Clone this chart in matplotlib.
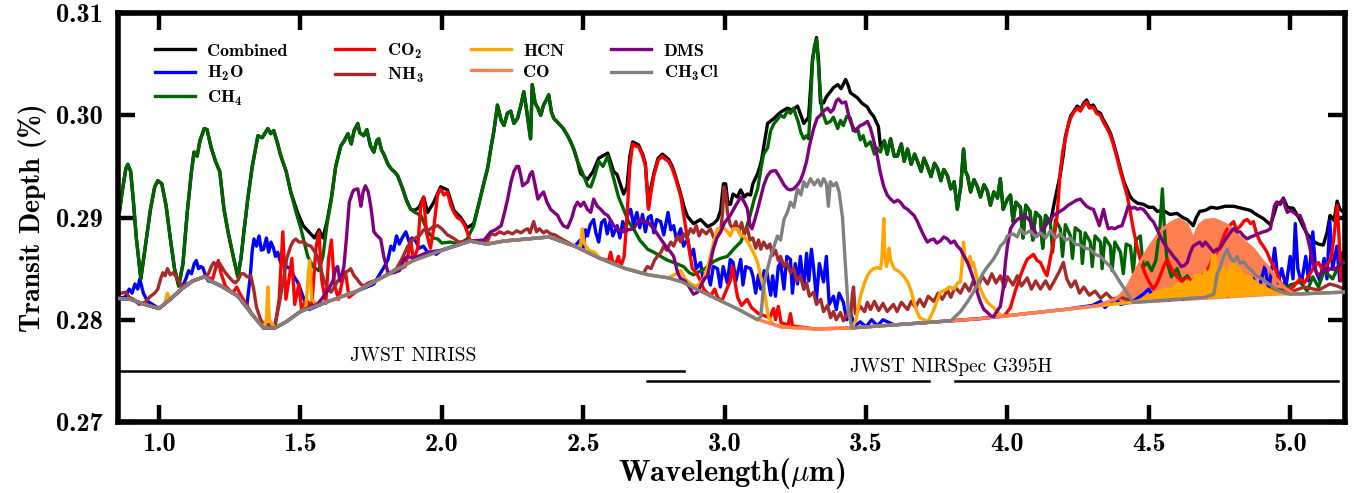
import matplotlib
matplotlib.use("Agg")
import matplotlib.pyplot as plt

plt.rcParams['mathtext.fontset'] = 'custom'
plt.rcParams['mathtext.rm'] = 'cmb10'
plt.rcParams['mathtext.bf'] = 'cmb10'
plt.rcParams['mathtext.it'] = 'cmmi10'
plt.rcParams['font.family'] = 'cmb10'
plt.rcParams['axes.unicode_minus'] = False

# ---------------- data (wavelength um, transit depth %) ----------------
BASE = [(0.85,0.2821),(0.90,0.2820),(0.95,0.2815),(1.00,0.2811),(1.04,0.2820),(1.08,0.2830),(1.12,0.2838),
        (1.16,0.2842),(1.19,0.2837),(1.22,0.2833),(1.28,0.2823),(1.33,0.2805),(1.37,0.2792),(1.41,0.2792),
        (1.45,0.2798),(1.50,0.2808),(1.60,0.2818),(1.70,0.2828),(1.80,0.2843),(1.90,0.2858),(2.00,0.2868),
        (2.10,0.2877),(2.16,0.2874),(2.22,0.2877),(2.30,0.2879),(2.38,0.2881),(2.47,0.2872),(2.56,0.2860),
        (2.65,0.2850),(2.73,0.2844),(2.80,0.2841),(2.85,0.2837),(2.90,0.2830),(2.96,0.2822),(3.05,0.2810),
        (3.12,0.2800),(3.20,0.2793),(3.32,0.2791),(3.45,0.2792),(3.55,0.2794),(3.65,0.2796),(3.80,0.2799),
        (3.90,0.2801),(4.00,0.2804),(4.10,0.2807),(4.20,0.2810),(4.30,0.2813),(4.40,0.2816),(4.50,0.2818),
        (4.60,0.2820),(4.70,0.2822),(4.80,0.2823),(4.90,0.2824),(5.00,0.2825),(5.10,0.2826),(5.19,0.2827)]


def cont(lo, hi):
    return [p for p in BASE if lo <= p[0] <= hi]


def part(series, lo, hi):
    return [p for p in series if lo <= p[0] <= hi]


ch4 = [(0.85,0.2912),(0.86,0.2905),(0.87,0.2925),(0.883,0.2948),(0.89,0.2952),(0.90,0.2945),(0.91,0.2915),(0.92,0.2880),
    (0.936,0.2840),(0.95,0.2868),(0.97,0.2908),(0.985,0.2930),(0.996,0.2936),(1.01,0.2933),(1.025,0.2912),(1.04,0.2880),
    (1.055,0.2850),(1.07,0.2833),(1.085,0.2855),(1.10,0.2905),(1.115,0.2945),(1.124,0.2964),(1.135,0.2960),(1.145,0.2975),
    (1.16,0.2987),(1.17,0.2986),(1.185,0.2968),(1.20,0.2955),(1.215,0.2945),(1.23,0.2908),(1.245,0.2885),(1.265,0.2859),
    (1.279,0.2842),(1.29,0.2860),(1.30,0.2885),(1.314,0.2918),(1.33,0.2950),(1.35,0.2980),(1.365,0.2978),(1.385,0.2987),
    (1.395,0.2982),(1.406,0.2985),(1.42,0.2972),(1.43,0.2961),(1.45,0.2945),(1.466,0.2925),(1.485,0.2905),(1.502,0.2889),
    (1.526,0.2862),(1.545,0.2852),(1.565,0.2848),(1.58,0.2862),(1.595,0.2895),(1.61,0.2918),(1.625,0.2950),(1.643,0.2970),
    (1.655,0.2975),(1.668,0.2982),(1.68,0.2972),(1.69,0.2985),(1.703,0.2992),(1.71,0.2983),(1.724,0.2980),(1.735,0.2986),
    (1.748,0.2970),(1.76,0.2964),(1.77,0.2975),(1.777,0.2977),(1.787,0.2966),(1.795,0.2962),(1.81,0.2952),(1.82,0.2948),
    (1.835,0.2944),(1.844,0.2941),(1.855,0.2933),(1.862,0.2928),(1.875,0.2917),(1.89,0.2908),(1.905,0.2905),(1.926,0.2902),
    (1.94,0.2893),(1.95,0.2886),(1.97,0.2880),(1.986,0.2879),(2.00,0.2875),(2.03,0.2876),(2.06,0.2874),(2.09,0.2879),
    (2.113,0.2892),(2.13,0.2912),(2.15,0.2935),(2.162,0.2948),(2.175,0.2970),(2.184,0.2984),(2.197,0.3010),(2.21,0.2995),
    (2.22,0.2990),(2.232,0.3002),(2.244,0.3004),(2.255,0.2992),(2.268,0.2997),(2.28,0.3010),(2.29,0.3023),(2.30,0.3005),
    (2.314,0.2977),(2.32,0.3030),(2.33,0.3012),(2.34,0.3007),(2.35,0.3000),(2.36,0.3010),(2.37,0.3015),(2.378,0.3020),
    (2.388,0.3003),(2.396,0.2997),(2.41,0.2993),(2.43,0.2987),(2.445,0.2980),(2.456,0.2974),(2.468,0.2966),(2.48,0.2955),
    (2.50,0.2942),(2.516,0.2931),(2.527,0.2930),(2.54,0.2940),(2.555,0.2955),(2.57,0.2950),(2.587,0.2960),(2.598,0.2948),
    (2.608,0.2938),(2.625,0.2920),(2.643,0.2908),(2.66,0.2896),(2.678,0.2889),(2.70,0.2878),(2.728,0.2869),(2.75,0.2866),
    (2.774,0.2862),(2.80,0.2858),(2.82,0.2856),(2.855,0.2852),(2.875,0.2846),(2.89,0.2844),(2.91,0.2847),(2.926,0.2849),
    (2.945,0.2853),(2.961,0.2857),(2.985,0.2860),(3.01,0.2862),(3.035,0.2870),(3.057,0.2876),(3.075,0.2888),(3.09,0.2902),
    (3.105,0.2918),(3.117,0.2928),(3.13,0.2950),(3.138,0.2962),(3.152,0.2968),(3.163,0.2985),(3.175,0.2992),(3.187,0.2996),
    (3.198,0.3000),(3.21,0.2998),(3.222,0.3004),(3.233,0.3002),(3.244,0.3007),(3.252,0.3000),(3.26,0.2994),(3.27,0.2983),
    (3.28,0.2977),(3.29,0.2980),(3.297,0.2977),(3.304,0.3010),(3.311,0.3053),(3.318,0.3068),(3.325,0.3074),(3.332,0.3050),
    (3.339,0.3020),(3.345,0.3003),(3.35,0.3000),(3.36,0.2992),(3.374,0.2994),(3.385,0.2998),(3.40,0.2987),(3.41,0.2995),
    (3.42,0.2990),(3.432,0.2999),(3.445,0.2997),(3.455,0.2985),(3.47,0.2987),(3.48,0.2976),(3.49,0.2980),(3.50,0.2970),
    (3.516,0.2974),(3.53,0.2962),(3.54,0.2968),(3.551,0.2964),(3.565,0.2975),(3.575,0.2962),(3.587,0.2977),(3.60,0.2960),
    (3.611,0.2960),(3.625,0.2972),(3.635,0.2955),(3.647,0.2967),(3.66,0.2952),(3.672,0.2962),(3.682,0.2955),(3.695,0.2945),
    (3.705,0.2958),(3.717,0.2950),(3.73,0.2940),(3.742,0.2953),(3.753,0.2948),(3.765,0.2936),(3.775,0.2947),(3.788,0.2941),
    (3.80,0.2928),(3.812,0.2935),(3.823,0.2908),(3.835,0.2930),(3.845,0.2967),(3.852,0.2945),(3.859,0.2941),(3.87,0.2925),
    (3.882,0.2937),(3.894,0.2930),(3.905,0.2920),(3.917,0.2932),(3.929,0.2926),(3.94,0.2912),(3.952,0.2925),(3.965,0.2919),
    (3.975,0.2938),(3.985,0.2908),(4.0,0.2918),(4.011,0.2922),(4.02,0.2896),(4.03,0.2915),(4.046,0.2910),(4.055,0.2880),
    (4.065,0.2912),(4.08,0.2906),(4.09,0.2878),(4.10,0.2905),(4.117,0.2900),(4.125,0.2870),(4.135,0.2902),(4.152,0.2895),
    (4.16,0.2866),(4.17,0.2898),(4.187,0.2889),(4.195,0.2862),(4.205,0.2893),(4.223,0.2882),(4.23,0.2860),(4.24,0.2890),
    (4.258,0.2886),(4.265,0.2855),(4.275,0.2885),(4.293,0.2876),(4.30,0.2852),(4.31,0.2882),(4.329,0.2876),(4.335,0.2850),
    (4.345,0.2880),(4.364,0.2872),(4.37,0.2848),(4.38,0.2876),(4.40,0.2866),(4.41,0.2845),(4.42,0.2874),(4.435,0.2872),
    (4.445,0.2846),(4.455,0.2878),(4.47,0.2882),(4.48,0.2852),(4.495,0.2856),(4.51,0.2848),(4.525,0.2858),(4.54,0.2892),
    (4.548,0.2928),(4.556,0.2885),(4.565,0.2856),(4.58,0.2842),(4.60,0.2850),(4.615,0.2838),(4.636,0.2843),(4.66,0.2832),
    (4.68,0.2837),(4.71,0.2830),(4.742,0.2837),(4.77,0.2828),(4.80,0.2833),(4.83,0.2826),(4.86,0.2830),(4.92,0.2830),
    (4.96,0.2826),(5.0,0.2834),(5.035,0.2837),(5.06,0.2828),(5.08,0.2842),(5.10,0.2832),(5.12,0.2848),(5.15,0.2840),
    (5.17,0.2852),(5.19,0.2843)]

combined = (part(ch4, 0.85, 1.466) +
    [(1.49,0.2905),(1.51,0.2892),(1.53,0.2886),(1.55,0.2880),(1.566,0.2888),(1.58,0.2880),(1.595,0.2897),(1.61,0.2920)] +
    part(ch4, 1.625, 1.89) +
    [(1.905,0.2907),(1.92,0.2910),(1.936,0.2920),(1.95,0.2905),(1.972,0.2915),(1.996,0.2930),(2.02,0.2927),
     (2.043,0.2907),(2.067,0.2900),(2.09,0.2890),(2.113,0.2894)] +
    part(ch4, 2.13, 2.48) +
    [(2.491,0.2943),(2.515,0.2937),(2.535,0.2945),(2.555,0.2958),(2.587,0.2963),(2.608,0.2945),(2.62,0.2942),
     (2.643,0.2923),(2.655,0.2930),(2.665,0.2960),(2.675,0.2974),(2.696,0.2971),(2.71,0.2962),(2.72,0.2953),
     (2.731,0.2910),(2.74,0.2930),(2.75,0.2943),(2.765,0.2958),(2.78,0.2962),(2.802,0.2957),(2.815,0.2950),
     (2.827,0.2940),(2.845,0.2923),(2.857,0.2910),(2.869,0.2901),(2.89,0.2894),(2.915,0.2898),(2.94,0.2891),
     (2.961,0.2894),(2.975,0.2898),(2.986,0.2907),(2.996,0.2933),(3.004,0.2933),(3.012,0.2913),(3.021,0.2913),
     (3.03,0.2923),(3.045,0.2920),(3.057,0.2927),(3.07,0.2920),(3.08,0.2923),(3.092,0.2922),(3.10,0.2933),
     (3.117,0.2943),(3.13,0.2955),(3.152,0.2992),(3.175,0.2997),(3.198,0.3003),(3.222,0.3007),(3.24,0.3005),
     (3.258,0.3009),(3.27,0.3000),(3.28,0.2992),(3.297,0.2998),(3.311,0.3055),(3.325,0.3076),(3.332,0.3055),
     (3.339,0.3012),(3.35,0.3012),(3.36,0.3018),(3.374,0.3023),(3.385,0.3027),(3.40,0.3030),(3.412,0.3026),
     (3.428,0.3035),(3.436,0.3030),(3.445,0.3022),(3.455,0.3020),(3.47,0.3017),(3.485,0.3012),(3.505,0.3008),
     (3.515,0.3003),(3.527,0.2999),(3.544,0.2989),(3.551,0.2970)] +
    part(ch4, 3.565, 4.152) +
    [(4.17,0.2920),(4.187,0.2942),(4.198,0.2962),(4.205,0.2979),(4.223,0.2999),(4.235,0.3004),(4.247,0.3009),
     (4.26,0.3006),(4.27,0.3012),(4.28,0.3015),(4.29,0.3009),(4.304,0.3010),(4.315,0.3004),(4.329,0.3002),
     (4.34,0.2995),(4.353,0.2989),(4.365,0.2982),(4.375,0.2973),(4.388,0.2960),(4.40,0.2947),(4.412,0.2935),
     (4.424,0.2927),(4.435,0.2920),(4.445,0.2917),(4.46,0.2914),(4.48,0.2913),(4.50,0.2910),(4.516,0.2910),
     (4.53,0.2906),(4.551,0.2907),(4.575,0.2903),(4.60,0.2904),(4.62,0.2900),(4.636,0.2898),(4.657,0.2892),
     (4.668,0.2900),(4.68,0.2906),(4.70,0.2907),(4.72,0.2910),(4.742,0.2909),(4.77,0.2911),(4.80,0.2911),
     (4.83,0.2909),(4.859,0.2907),(4.88,0.2903),(4.905,0.2899),(4.93,0.2893),(4.945,0.2905),(4.955,0.2915),
     (4.965,0.2913),(4.976,0.2919),(4.99,0.2910),(5.011,0.2909),(5.03,0.2900),(5.046,0.2891),(5.06,0.2884),
     (5.081,0.2877),(5.10,0.2874),(5.117,0.2873),(5.13,0.2885),(5.141,0.2902),(5.155,0.2897),(5.166,0.2916),
     (5.176,0.2908),(5.19,0.2905)])

h2o = ([(0.85,0.2821),(0.88,0.2822),(0.895,0.2830),(0.905,0.2826),(0.915,0.2835),(0.925,0.2830),(0.932,0.2840),
        (0.945,0.2826),(0.96,0.2818)] + cont(1.00, 1.08) +
       [(1.095,0.2840),(1.105,0.2848),(1.115,0.2845),(1.125,0.2855),(1.132,0.2858),(1.14,0.2850),(1.148,0.2852),
        (1.155,0.2851),(1.165,0.2843),(1.175,0.2838)] + cont(1.19, 1.28) +
       [(1.31,0.2812),(1.322,0.2840),(1.33,0.2868),(1.336,0.2879),(1.345,0.2872),(1.354,0.2882),(1.362,0.2868),
        (1.37,0.2869),(1.38,0.2880),(1.388,0.2866),(1.396,0.2876),(1.405,0.2870),(1.412,0.2862),(1.42,0.2866),
        (1.43,0.2856),(1.44,0.2860),(1.45,0.2852),(1.466,0.2850),(1.478,0.2842),(1.49,0.2837),(1.50,0.2830),
        (1.513,0.2820),(1.53,0.2810)] + cont(1.60, 1.70) +
       [(1.76,0.2835),(1.784,0.2846),(1.797,0.2852),(1.81,0.2859),(1.82,0.2872),(1.83,0.2868),(1.84,0.2882),
        (1.85,0.2874),(1.86,0.2880),(1.873,0.2886),(1.885,0.2876),(1.895,0.2880),(1.908,0.2877),(1.92,0.2870),
        (1.935,0.2872),(1.95,0.2866),(1.965,0.2866),(1.98,0.2864)] + cont(2.00, 2.47) +
       [(2.49,0.2878),(2.50,0.2870),(2.508,0.2888),(2.515,0.2882),(2.525,0.2893),(2.537,0.2898),(2.545,0.2885),
        (2.555,0.2876),(2.565,0.2895),(2.576,0.2898),(2.585,0.2884),(2.595,0.2896),(2.605,0.2882),(2.62,0.2892),
        (2.63,0.2880),(2.64,0.2896),(2.65,0.2887),(2.658,0.2903),(2.668,0.2908),(2.678,0.2893),(2.69,0.2905),
        (2.70,0.2890),(2.71,0.2903),(2.72,0.2886),(2.73,0.2900),(2.74,0.2902),(2.75,0.2885),(2.76,0.2898),
        (2.774,0.2896),(2.785,0.2883),(2.80,0.2905),(2.81,0.2888),(2.82,0.2892),(2.83,0.2878),(2.845,0.2889),
        (2.855,0.2872),(2.87,0.2879),(2.88,0.2862),(2.89,0.2869),(2.90,0.2850),(2.915,0.2856),(2.925,0.2838),
        (2.94,0.2846),(2.95,0.2834),(2.96,0.2852),(2.975,0.2850),(2.985,0.2832),(2.995,0.2852),(3.01,0.2836),
        (3.02,0.2859),(3.03,0.2856),(3.04,0.2838),(3.057,0.2859),(3.065,0.2834),(3.075,0.2852),(3.092,0.2850),
        (3.10,0.2843),(3.11,0.2826),(3.12,0.2844),(3.128,0.2830),(3.14,0.2848),(3.15,0.2846),(3.163,0.2824),
        (3.17,0.2843),(3.18,0.2823),(3.19,0.2852),(3.198,0.2856),(3.21,0.2830),(3.22,0.2862),(3.233,0.2859),
        (3.24,0.2826),(3.25,0.2855),(3.258,0.2835),(3.268,0.2862),(3.28,0.2830),(3.29,0.2865),(3.298,0.2838),
        (3.307,0.2869),(3.315,0.2850),(3.325,0.2820),(3.335,0.2855),(3.35,0.2837),(3.36,0.2862),(3.37,0.2815),
        (3.385,0.2823),(3.395,0.2810),(3.405,0.2826),(3.42,0.2817),(3.432,0.2800),(3.445,0.2807),(3.46,0.2794),
        (3.48,0.2798),(3.50,0.2793),(3.52,0.2800),(3.54,0.2794),(3.56,0.2800),(3.60,0.2795)] + cont(3.65, 4.20) +
       [(4.30,0.2814),(4.33,0.2818),(4.345,0.2812),(4.38,0.2821),(4.40,0.2815),(4.445,0.2818),(4.48,0.2825),
        (4.50,0.2830),(4.52,0.2820),(4.55,0.2826),(4.57,0.2819),(4.60,0.2832),(4.62,0.2820),(4.66,0.2830),
        (4.70,0.2822),(4.74,0.2828),(4.78,0.2823),(4.82,0.2836),(4.84,0.2826),(4.87,0.2840),(4.885,0.2826),
        (4.91,0.2852),(4.925,0.2830),(4.945,0.2870),(4.958,0.2836),(4.97,0.2850),(4.985,0.2832),(5.0,0.2862),
        (5.01,0.2840),(5.018,0.2894),(5.027,0.2850),(5.04,0.2836),(5.055,0.2862),(5.065,0.2838),(5.08,0.2886),
        (5.09,0.2848),(5.105,0.2838),(5.12,0.2860),(5.13,0.2840),(5.14,0.2896),(5.15,0.2850),(5.165,0.2872),
        (5.175,0.2838),(5.186,0.2866),(5.19,0.2845)])

co2 = (cont(0.85, 1.16) +
       [(1.19,0.2840),(1.20,0.2850),(1.21,0.2858),(1.22,0.2845),(1.235,0.2833),(1.26,0.2826),(1.275,0.2832),
        (1.285,0.2826)] + cont(1.33, 1.41) +
       [(1.425,0.2820),(1.438,0.2886),(1.449,0.2820),(1.46,0.2840),(1.47,0.2860),(1.48,0.2815),(1.495,0.2835),
        (1.505,0.2808),(1.52,0.2820),(1.54,0.2812),(1.555,0.2870),(1.566,0.2886),(1.575,0.2840),(1.59,0.2816),
        (1.60,0.2860),(1.61,0.2878),(1.62,0.2835),(1.635,0.2820),(1.65,0.2840),(1.66,0.2846),(1.672,0.2822)] +
       cont(1.70, 1.80) +
       [(1.87,0.2852),(1.88,0.2862),(1.89,0.2878),(1.90,0.2858),(1.915,0.2870),(1.925,0.2910),(1.936,0.2920),
        (1.946,0.2885),(1.96,0.2870),(1.972,0.2890),(1.985,0.2922),(1.996,0.2928),(2.008,0.2922),(2.02,0.2925),
        (2.032,0.2912),(2.043,0.2905),(2.055,0.2900),(2.067,0.2898),(2.08,0.2893),(2.09,0.2886)] +
       cont(2.10, 2.56) +
       [(2.59,0.2858),(2.597,0.2866),(2.605,0.2856),(2.615,0.2855),(2.625,0.2862),(2.633,0.2852),(2.645,0.2862),
        (2.655,0.2900),(2.665,0.2950),(2.675,0.2972),(2.685,0.2970),(2.696,0.2969),(2.708,0.2962),(2.72,0.2951),
        (2.731,0.2908),(2.74,0.2925),(2.75,0.2941),(2.765,0.2956),(2.78,0.2960),(2.79,0.2957),(2.802,0.2955),
        (2.815,0.2948),(2.827,0.2938),(2.845,0.2921),(2.857,0.2900),(2.869,0.2879),(2.886,0.2850),(2.90,0.2846),
        (2.915,0.2838),(2.926,0.2830),(2.95,0.2823),(2.965,0.2830),(2.975,0.2822),(2.99,0.2818),(3.005,0.2828),
        (3.02,0.2838),(3.028,0.2852),(3.035,0.2840),(3.046,0.2822),(3.06,0.2814),(3.08,0.2820),(3.095,0.2812),
        (3.12,0.2806),(3.16,0.2802),(3.173,0.2811),(3.18,0.2800),(3.19,0.2813),(3.20,0.2797),(3.225,0.2795),
        (3.233,0.2806),(3.24,0.2794)] + cont(3.32, 3.90) +
       [(3.99,0.2804),(4.011,0.2812),(4.03,0.2830),(4.046,0.2843),(4.06,0.2853),(4.07,0.2859),(4.092,0.2864),
        (4.105,0.2858),(4.117,0.2856),(4.13,0.2848),(4.14,0.2843),(4.152,0.2860),(4.163,0.2876),(4.176,0.2902),
        (4.187,0.2945),(4.196,0.2965),(4.205,0.2977),(4.215,0.2990),(4.223,0.2997),(4.235,0.3003),(4.247,0.3007),
        (4.258,0.3004),(4.27,0.3010),(4.28,0.3013),(4.29,0.3007),(4.304,0.3008),(4.315,0.3002),(4.329,0.3000),
        (4.34,0.2993),(4.353,0.2987),(4.365,0.2980),(4.375,0.2971),(4.388,0.2958),(4.40,0.2945),(4.412,0.2933),
        (4.424,0.2921),(4.435,0.2905),(4.445,0.2889),(4.458,0.2872),(4.47,0.2859),(4.483,0.2848),(4.495,0.2840),
        (4.516,0.2830),(4.53,0.2836),(4.54,0.2843),(4.553,0.2852),(4.565,0.2859),(4.58,0.2850),(4.60,0.2842),
        (4.62,0.2838),(4.64,0.2841),(4.66,0.2836),(4.69,0.2843),(4.71,0.2850),(4.73,0.2862),(4.75,0.2870),
        (4.77,0.2885),(4.785,0.2892),(4.80,0.2896),(4.81,0.2888),(4.825,0.2892),(4.838,0.2897),(4.848,0.2898),
        (4.86,0.2894),(4.87,0.2896),(4.88,0.2885),(4.894,0.2876),(4.905,0.2872),(4.918,0.2866),(4.93,0.2858),
        (4.942,0.2852),(4.954,0.2845),(4.965,0.2836),(4.976,0.2834),(4.99,0.2828),(5.01,0.2832),(5.035,0.2840),
        (5.05,0.2836),(5.07,0.2845),(5.085,0.2852),(5.10,0.2856),(5.115,0.2848),(5.13,0.2854),(5.145,0.2860),
        (5.155,0.2882),(5.166,0.2912),(5.172,0.2885),(5.18,0.2838),(5.19,0.2840)])

nh3 = [(0.85,0.2823),(0.865,0.2826),(0.883,0.2827),(0.895,0.2822),(0.91,0.2820),(0.93,0.2815),(0.95,0.2817),
    (0.97,0.2823),(0.985,0.2826),(0.996,0.2830),(1.006,0.2840),(1.014,0.2846),(1.022,0.2843),(1.03,0.2850),(1.04,0.2844),
    (1.05,0.2846),(1.067,0.2840),(1.08,0.2833),(1.10,0.2835),(1.12,0.2838),(1.16,0.2842),(1.175,0.2845),(1.185,0.2852),
    (1.194,0.2856),(1.205,0.2852),(1.215,0.2855),(1.23,0.2848),(1.244,0.2843),(1.26,0.2838),(1.27,0.2836),(1.28,0.2839),
    (1.29,0.2845),(1.30,0.2845),(1.312,0.2842),(1.325,0.2843),(1.335,0.2830),(1.345,0.2812),(1.36,0.2800),(1.37,0.2796),
    (1.41,0.2795),(1.425,0.2815),(1.44,0.2839),(1.452,0.2860),(1.466,0.2872),(1.475,0.2877),(1.484,0.2879),(1.495,0.2876),
    (1.512,0.2876),(1.525,0.2873),(1.537,0.2872),(1.55,0.2867),(1.56,0.2862),(1.572,0.2850),(1.583,0.2839),(1.595,0.2832),
    (1.608,0.2827),(1.62,0.2832),(1.632,0.2838),(1.643,0.2840),(1.655,0.2846),(1.67,0.2848),(1.678,0.2850),(1.69,0.2843),
    (1.70,0.2840),(1.713,0.2835),(1.724,0.2833),(1.74,0.2836),(1.76,0.2838),(1.78,0.2840),(1.80,0.2843),(1.84,0.2850),
    (1.86,0.2860),(1.88,0.2872),(1.90,0.2879),(1.92,0.2882),(1.936,0.2888),(1.95,0.2887),(1.97,0.2891),(1.986,0.2892),
    (2.00,0.2889),(2.02,0.2883),(2.04,0.2880),(2.06,0.2876),(2.10,0.2877),(2.16,0.2876),(2.173,0.2884),(2.19,0.2883),
    (2.205,0.2886),(2.22,0.2884),(2.233,0.2886),(2.25,0.2884),(2.265,0.2887),(2.28,0.2885),(2.295,0.2888),(2.304,0.2889),
    (2.312,0.2885),(2.325,0.2896),(2.335,0.2886),(2.345,0.2889),(2.36,0.2885),(2.37,0.2887),(2.385,0.2884),(2.40,0.2883),
    (2.43,0.2878),(2.47,0.2872),(2.56,0.2860),(2.65,0.2850),(2.68,0.2848),(2.70,0.2846),(2.714,0.2846),(2.727,0.2852),
    (2.74,0.2850),(2.752,0.2858),(2.762,0.2862),(2.775,0.2866),(2.785,0.2872),(2.795,0.2868),(2.81,0.2876),(2.82,0.2872),
    (2.834,0.2882),(2.845,0.2876),(2.855,0.2884),(2.866,0.2880),(2.88,0.2889),(2.89,0.2885),(2.90,0.2892),(2.91,0.2882),
    (2.92,0.2888),(2.935,0.2884),(2.95,0.2889),(2.962,0.2880),(2.975,0.2882),(2.986,0.2886),(2.993,0.2905),(2.998,0.2930),
    (3.004,0.2925),(3.01,0.2905),(3.02,0.2893),(3.03,0.2889),(3.04,0.2896),(3.05,0.2886),(3.06,0.2895),(3.07,0.2884),
    (3.08,0.2890),(3.09,0.2878),(3.10,0.2880),(3.11,0.2870),(3.12,0.2878),(3.128,0.2869),(3.138,0.2876),(3.15,0.2870),
    (3.16,0.2874),(3.17,0.2863),(3.18,0.2868),(3.19,0.2858),(3.198,0.2862),(3.21,0.2852),(3.22,0.2856),(3.233,0.2846),
    (3.245,0.2850),(3.255,0.2838),(3.268,0.2843),(3.28,0.2830),(3.29,0.2836),(3.30,0.2823),(3.315,0.2827),(3.325,0.2815),
    (3.34,0.2820),(3.35,0.2808),(3.364,0.2814),(3.375,0.2802),(3.385,0.2808),(3.395,0.2800),(3.41,0.2807),(3.42,0.2799),
    (3.434,0.2806),(3.445,0.2800),(3.452,0.2825),(3.456,0.2832),(3.462,0.2806),(3.48,0.2813),(3.495,0.2808),(3.505,0.2817),
    (3.516,0.2810),(3.53,0.2818),(3.545,0.2809),(3.56,0.2816),(3.575,0.2808),(3.597,0.2815),(3.61,0.2808),(3.625,0.2817),
    (3.647,0.2810),(3.66,0.2818),(3.675,0.2812),(3.69,0.2820),(3.705,0.2813),(3.72,0.2823),(3.74,0.2818),(3.755,0.2826),
    (3.77,0.2820),(3.788,0.2829),(3.80,0.2822),(3.815,0.2832),(3.834,0.2826),(3.85,0.2835),(3.865,0.2828),(3.88,0.2838),
    (3.895,0.2830),(3.91,0.2843),(3.93,0.2835),(3.945,0.2845),(3.96,0.2836),(3.975,0.2843),(3.99,0.2832),(4.0,0.2842),
    (4.02,0.2834),(4.035,0.2843),(4.05,0.2833),(4.07,0.2841),(4.085,0.2830),(4.10,0.2838),(4.117,0.2830),(4.135,0.2838),
    (4.15,0.2830),(4.17,0.2840),(4.185,0.2848),(4.198,0.2856),(4.21,0.2840),(4.225,0.2832),(4.24,0.2838),(4.255,0.2826),
    (4.27,0.2832),(4.29,0.2824),(4.31,0.2828),(4.33,0.2821),(4.35,0.2826),(4.375,0.2819),(4.40,0.2822),(4.445,0.2818),
    (4.50,0.2819),(4.60,0.2821),(4.70,0.2823),(4.80,0.2825),(4.90,0.2827),(4.95,0.2830),(5.0,0.2827),(5.05,0.2832),
    (5.1,0.2829),(5.14,0.2835),(5.166,0.2833),(5.19,0.2830)]

hcn_band = [(4.40,0.2816),(4.445,0.2817),(4.48,0.2820),(4.50,0.2823),(4.53,0.2827),(4.565,0.2830),(4.58,0.2829),
    (4.60,0.2835),(4.62,0.2833),(4.635,0.2838),(4.65,0.2835),(4.665,0.2843),(4.68,0.2844),(4.69,0.2840),(4.70,0.2848),
    (4.71,0.2843),(4.72,0.2851),(4.727,0.2862),(4.732,0.2869),(4.737,0.2851),(4.745,0.2846),(4.755,0.2840),
    (4.765,0.2851),(4.78,0.2844),(4.79,0.2853),(4.80,0.2856),(4.81,0.2846),(4.82,0.2850),(4.835,0.2841),(4.85,0.2843),
    (4.87,0.2838),(4.89,0.2834),(4.92,0.2830),(4.95,0.2826),(5.00,0.2825)]

hcn = (cont(0.85, 1.00) + [(1.02,0.2815),(1.03,0.2826)] + cont(1.04, 1.37) +
       [(1.38,0.2800),(1.385,0.2832),(1.39,0.2800)] + cont(1.41, 1.50) +
       [(1.52,0.2812),(1.528,0.2845),(1.533,0.2858),(1.54,0.2820),(1.56,0.2815)] + cont(1.60, 2.47) +
       [(2.49,0.2870),(2.497,0.2889),(2.503,0.2875),(2.52,0.2868),(2.54,0.2866)] + cont(2.56, 2.80) +
       [(2.83,0.2845),(2.845,0.2848),(2.86,0.2840),(2.88,0.2835),(2.90,0.2833),(2.915,0.2836),(2.926,0.2840),
        (2.938,0.2850),(2.95,0.2862),(2.962,0.2876),(2.975,0.2889),(2.988,0.2889),(3.0,0.2889),(3.01,0.2886),
        (3.02,0.2882),(3.03,0.2889),(3.046,0.2889),(3.057,0.2882),(3.067,0.2882),(3.08,0.2877),(3.09,0.2872),
        (3.105,0.2864),(3.117,0.2856),(3.127,0.2843),(3.14,0.2830),(3.148,0.2815),(3.155,0.2803),(3.17,0.2796)] +
       cont(3.20, 3.45) +
       [(3.465,0.2800),(3.48,0.2823),(3.495,0.2836),(3.505,0.2843),(3.517,0.2848),(3.527,0.2850),(3.54,0.2851),
        (3.551,0.2850),(3.556,0.2858),(3.56,0.2880),(3.563,0.2899),(3.566,0.2870),(3.572,0.2852),(3.578,0.2858),
        (3.582,0.2870),(3.587,0.2858),(3.60,0.2850),(3.612,0.2848),(3.622,0.2846),(3.635,0.2842),(3.647,0.2837),
        (3.66,0.2828),(3.67,0.2817),(3.68,0.2808),(3.69,0.2802),(3.72,0.2798),(3.74,0.2810),(3.763,0.2827),
        (3.78,0.2829),(3.795,0.2832),(3.81,0.2830),(3.825,0.2836),(3.834,0.2837),(3.84,0.2855),(3.845,0.2876),
        (3.85,0.2860),(3.859,0.2856),(3.868,0.2862),(3.874,0.2852),(3.88,0.2856),(3.893,0.2840),(3.905,0.2830),
        (3.918,0.2822),(3.93,0.2817),(3.95,0.2812),(3.965,0.2808),(3.98,0.2803)] + cont(4.00, 4.30) +
       hcn_band + cont(5.10, 5.19))

co_band = [(4.30,0.2813),(4.32,0.2814),(4.35,0.2817),(4.38,0.2820),(4.40,0.2824),(4.424,0.2832),(4.445,0.2843),
    (4.47,0.2856),(4.495,0.2868),(4.52,0.2878),(4.54,0.2886),(4.56,0.2891),(4.587,0.2896),(4.605,0.2898),(4.62,0.2896),
    (4.635,0.2893),(4.648,0.2885),(4.657,0.2877),(4.666,0.2885),(4.68,0.2893),(4.70,0.2897),(4.73,0.2898),(4.75,0.2896),
    (4.78,0.2892),(4.81,0.2884),(4.84,0.2876),(4.87,0.2869),(4.90,0.2858),(4.926,0.2850),(4.95,0.2840),(4.97,0.2834),
    (4.986,0.2830),(5.01,0.2826),(5.04,0.2825)]

co = cont(0.85, 4.20) + co_band + cont(5.10, 5.19)

dms = (cont(0.85, 1.50) +
       [(1.537,0.2813),(1.56,0.2815),(1.58,0.2822),(1.60,0.2830),(1.615,0.2838),(1.625,0.2850),(1.632,0.2852),
        (1.64,0.2838),(1.648,0.2845),(1.654,0.2852),(1.663,0.2880),(1.673,0.2915),(1.685,0.2925),(1.69,0.2927),
        (1.703,0.2928),(1.71,0.2918),(1.714,0.2911),(1.722,0.2925),(1.73,0.2931),(1.74,0.2925),(1.749,0.2911),
        (1.755,0.2898),(1.76,0.2886),(1.772,0.2882),(1.784,0.2879),(1.795,0.2862),(1.81,0.2846),(1.83,0.2846),
        (1.85,0.2848),(1.866,0.2859),(1.88,0.2862),(1.90,0.2860),(1.95,0.2866),(2.00,0.2868),(2.10,0.2877),
        (2.15,0.2878),(2.173,0.2886),(2.19,0.2888),(2.21,0.2892),(2.222,0.2905),(2.233,0.2918),(2.245,0.2935),
        (2.255,0.2945),(2.265,0.2950),(2.272,0.2950),(2.28,0.2940),(2.286,0.2931),(2.295,0.2933),(2.304,0.2935),
        (2.312,0.2942),(2.32,0.2945),(2.33,0.2932),(2.34,0.2918),(2.35,0.2922),(2.36,0.2925),(2.372,0.2915),
        (2.385,0.2908),(2.397,0.2905),(2.41,0.2902),(2.42,0.2896),(2.43,0.2892),(2.445,0.2890),(2.46,0.2900),
        (2.47,0.2910),(2.48,0.2915),(2.491,0.2911),(2.502,0.2915),(2.515,0.2908),(2.527,0.2905),(2.537,0.2918),
        (2.55,0.2911),(2.562,0.2908),(2.575,0.2904),(2.587,0.2902),(2.598,0.2897),(2.608,0.2892),(2.625,0.2888),
        (2.643,0.2886),(2.66,0.2888),(2.678,0.2889),(2.69,0.2894),(2.70,0.2898),(2.714,0.2896),(2.727,0.2896),
        (2.74,0.2892),(2.75,0.2889),(2.762,0.2884),(2.774,0.2879),(2.787,0.2874),(2.80,0.2869),(2.81,0.2866),
        (2.82,0.2862),(2.828,0.2853),(2.834,0.2846),(2.845,0.2840),(2.86,0.2838),(2.875,0.2832),(2.89,0.2825),
        (2.905,0.2827),(2.915,0.2833),(2.928,0.2840),(2.94,0.2843),(2.95,0.2856),(2.96,0.2869),(2.973,0.2880),
        (2.986,0.2886),(3.0,0.2895),(3.02,0.2902),(3.04,0.2912),(3.057,0.2920),(3.068,0.2916),(3.08,0.2909),
        (3.09,0.2892),(3.097,0.2889),(3.107,0.2898),(3.117,0.2908),(3.128,0.2920),(3.138,0.2931),(3.15,0.2940),
        (3.163,0.2945),(3.18,0.2946),(3.198,0.2938),(3.21,0.2932),(3.222,0.2928),(3.233,0.2927),(3.244,0.2928),
        (3.258,0.2932),(3.268,0.2936),(3.28,0.2945),(3.29,0.2955),(3.30,0.2970),(3.315,0.2987),(3.327,0.2997),
        (3.339,0.3000),(3.35,0.3004),(3.364,0.3007),(3.375,0.3003),(3.385,0.3006),(3.395,0.3014),(3.403,0.3016),
        (3.415,0.3012),(3.428,0.3013),(3.437,0.3002),(3.445,0.2994),(3.455,0.2988),(3.463,0.2984),(3.472,0.2988),
        (3.48,0.2990),(3.49,0.2991),(3.505,0.2994),(3.515,0.2988),(3.523,0.2980),(3.532,0.2970),(3.54,0.2960),
        (3.55,0.2945),(3.562,0.2931),(3.575,0.2922),(3.587,0.2918),(3.60,0.2915),(3.612,0.2917),(3.622,0.2915),
        (3.635,0.2910),(3.647,0.2908),(3.658,0.2905),(3.67,0.2902),(3.682,0.2896),(3.693,0.2889),(3.705,0.2882),
        (3.717,0.2876),(3.728,0.2878),(3.74,0.2879),(3.75,0.2875),(3.763,0.2877),(3.775,0.2881),(3.788,0.2879),
        (3.80,0.2875),(3.812,0.2877),(3.823,0.2872),(3.834,0.2869),(3.847,0.2862),(3.859,0.2856),(3.87,0.2848),
        (3.88,0.2840),(3.892,0.2828),(3.905,0.2817),(3.917,0.2810),(3.93,0.2807),(3.94,0.2804),(3.951,0.2803),
        (3.962,0.2808),(3.975,0.2813),(3.985,0.2830),(3.993,0.2856),(4.0,0.2872),(4.011,0.2889),(4.022,0.2894),
        (4.035,0.2898),(4.046,0.2900),(4.057,0.2902),(4.07,0.2900),(4.081,0.2896),(4.094,0.2888),(4.106,0.2882),
        (4.117,0.2885),(4.127,0.2889),(4.145,0.2896),(4.163,0.2902),(4.18,0.2905),(4.198,0.2908),(4.215,0.2912),
        (4.233,0.2915),(4.245,0.2917),(4.258,0.2918),(4.27,0.2914),(4.28,0.2911),(4.292,0.2909),(4.304,0.2908),
        (4.315,0.2900),(4.325,0.2892),(4.34,0.2908),(4.348,0.2898),(4.357,0.2889),(4.368,0.2890),(4.38,0.2889),
        (4.392,0.2891),(4.405,0.2892),(4.415,0.2900),(4.427,0.2911),(4.44,0.2909),(4.45,0.2910),(4.46,0.2908),
        (4.47,0.2909),(4.48,0.2908),(4.495,0.2903),(4.505,0.2899),(4.516,0.2896),(4.53,0.2888),(4.54,0.2882),
        (4.551,0.2876),(4.565,0.2870),(4.577,0.2866),(4.587,0.2862),(4.60,0.2858),(4.615,0.2852),(4.625,0.2853),
        (4.636,0.2856),(4.647,0.2866),(4.657,0.2872),(4.668,0.2874),(4.68,0.2876),(4.69,0.2872),(4.70,0.2876),
        (4.715,0.2871),(4.73,0.2866),(4.74,0.2869),(4.75,0.2869),(4.765,0.2876),(4.78,0.2882),(4.79,0.2886),
        (4.80,0.2889),(4.812,0.2886),(4.823,0.2886),(4.835,0.2882),(4.848,0.2879),(4.86,0.2881),(4.87,0.2882),
        (4.885,0.2884),(4.905,0.2886),(4.918,0.2887),(4.93,0.2889),(4.937,0.2900),(4.944,0.2911),(4.952,0.2915),
        (4.96,0.2913),(4.968,0.2916),(4.976,0.2918),(4.983,0.2910),(4.99,0.2905),(5.0,0.2907),(5.012,0.2905),
        (5.025,0.2902),(5.035,0.2902),(5.048,0.2893),(5.06,0.2882),(5.07,0.2870),(5.08,0.2856),(5.09,0.2848),
        (5.10,0.2843),(5.11,0.2846),(5.12,0.2850),(5.13,0.2847),(5.14,0.2850),(5.155,0.2849),(5.17,0.2852),
        (5.18,0.2855),(5.19,0.2856)])

ch3cl = (cont(0.85, 3.05) +
         [(3.115,0.2800),(3.128,0.2803),(3.138,0.2833),(3.152,0.2850),(3.163,0.2862),(3.175,0.2872),(3.187,0.2882),
          (3.198,0.2878),(3.21,0.2898),(3.222,0.2905),(3.233,0.2915),(3.245,0.2910),(3.258,0.2928),(3.27,0.2922),
          (3.28,0.2935),(3.29,0.2930),(3.304,0.2938),(3.317,0.2932),(3.33,0.2937),(3.34,0.2931),(3.35,0.2938),
          (3.36,0.2933),(3.367,0.2911),(3.374,0.2935),(3.385,0.2931),(3.395,0.2934),(3.405,0.2925),(3.417,0.2900),
          (3.428,0.2850),(3.438,0.2808)] + cont(3.45, 3.80) +
         [(3.834,0.2808),(3.86,0.2818),(3.88,0.2827),(3.90,0.2838),(3.915,0.2846),(3.93,0.2852),(3.95,0.2859),
          (3.965,0.2866),(3.975,0.2872),(3.99,0.2876),(4.0,0.2882),(4.02,0.2884),(4.035,0.2881),(4.046,0.2889),
          (4.06,0.2884),(4.081,0.2887),(4.10,0.2881),(4.117,0.2885),(4.135,0.2880),(4.152,0.2887),(4.17,0.2880),
          (4.187,0.2884),(4.205,0.2878),(4.223,0.2880),(4.24,0.2874),(4.258,0.2873),(4.275,0.2870),(4.293,0.2869),
          (4.31,0.2864),(4.329,0.2862),(4.345,0.2857),(4.364,0.2852),(4.38,0.2845),(4.40,0.2836),(4.424,0.2826),
          (4.445,0.2817)] + cont(4.50, 4.70) +
         [(4.73,0.2825),(4.742,0.2845),(4.753,0.2852),(4.765,0.2862),(4.778,0.2869),(4.79,0.2860),(4.80,0.2857),
          (4.812,0.2862),(4.823,0.2855),(4.835,0.2857),(4.848,0.2852),(4.865,0.2848),(4.88,0.2843),(4.90,0.2840),
          (4.915,0.2837),(4.94,0.2832),(4.96,0.2828)] + cont(5.00, 5.19))

species = [
    ('Combined', combined, 'black'),
    (r'H$_\mathrm{2}$O', h2o, 'blue'),
    (r'CH$_\mathrm{4}$', ch4, 'darkgreen'),
    (r'CO$_\mathrm{2}$', co2, 'red'),
    (r'NH$_\mathrm{3}$', nh3, 'brown'),
    ('HCN', hcn, 'orange'),
    ('CO', co, 'coral'),
    ('DMS', dms, 'purple'),
    (r'CH$_\mathrm{3}$Cl', ch3cl, 'gray'),
]

niriss_range = (0.85, 2.855)
nirspec_ranges = [(2.727, 3.722), (3.815, 5.17)]
xticks = [1.0, 1.5, 2.0, 2.5, 3.0, 3.5, 4.0, 4.5, 5.0]
yticks = [0.27, 0.28, 0.29, 0.30, 0.31]

# ---------------- plot ----------------
fig = plt.figure(figsize=(13.54, 4.93), dpi=100)
ax = fig.add_axes([0.0871, 0.144, 0.9934 - 0.0871, 0.9736 - 0.144])

for i, (lab, data, col) in enumerate(species):
    xs, ys = zip(*data)
    ax.plot(xs, ys, color=col, lw=2.4, label=lab, zorder=2 + i * 0.1, solid_joinstyle='round')

bx, by = zip(*co_band)
ax.fill(bx, by, color='coral', lw=0, zorder=2.05)
hx, hy = zip(*hcn_band)
ax.fill(hx, hy, color='orange', lw=0, zorder=2.52)

ax.plot(niriss_range, [0.2750, 0.2750], color='black', lw=1.8)
for r in nirspec_ranges:
    ax.plot(r, [0.2740, 0.2740], color='black', lw=1.8)
ax.text(1.90, 0.2765, 'JWST NIRISS', ha='center', va='center', fontsize=14, family='cmr10')
ax.text(3.80, 0.2754, 'JWST NIRSpec G395H', ha='center', va='center', fontsize=14, family='cmr10')

ax.set_xlim(0.855, 5.194)
ax.set_ylim(0.27, 0.31)
ax.set_xticks(xticks)
ax.set_xticklabels([f'{v:.1f}' for v in xticks])
ax.set_yticks(yticks)
ax.set_yticklabels([f'{v:.2f}' for v in yticks])
ax.tick_params(direction='in', length=12, width=3.2, top=True, right=True, labelsize=19, pad=8)
ax.tick_params(axis='y', pad=11)
for s in ax.spines.values():
    s.set_linewidth(4)

ax.set_xlabel(r'Wavelength($\mu$m)', fontsize=22, labelpad=0)
ax.set_ylabel('Transit Depth (%)', fontsize=20, labelpad=6)

ax.legend(loc='upper left', bbox_to_anchor=(0.017, 0.97), ncol=4, frameon=False, fontsize=13,
          handlelength=2.2, handletextpad=0.7, labelspacing=0.3, columnspacing=2.6, borderaxespad=0.5)

fig.savefig('out.png', dpi=100)
